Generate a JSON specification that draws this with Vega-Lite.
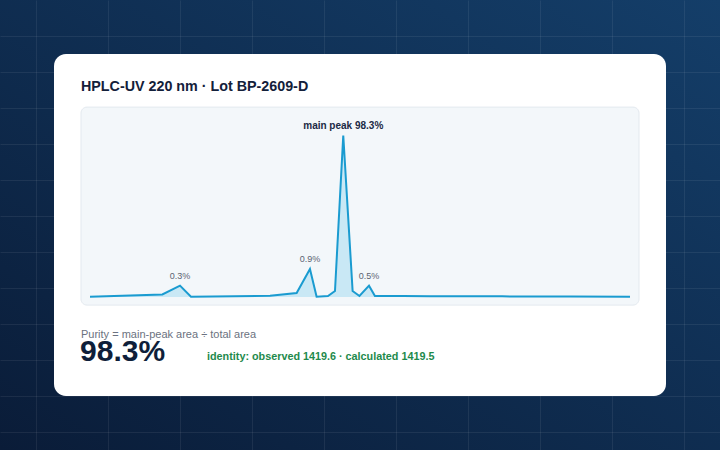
{
  "$schema": "https://vega.github.io/schema/vega-lite/v6.json",
  "width": 720,
  "height": 450,
  "autosize": {"type": "none"},
  "padding": 0,
  "background": "#0c2648",
  "view": {"stroke": null, "fill": {"gradient": "linear", "x1": 1, "y1": 0, "x2": 0, "y2": 1, "stops": [{"offset": 0, "color": "#143e69"}, {"offset": 1, "color": "#0a1c38"}]}},
  "config": {
    "axis": {"domain": false, "ticks": false, "labels": false, "grid": true, "gridColor": "#ffffff", "gridOpacity": 0.07, "gridWidth": 1},
    "text": {"font": "Liberation Sans"}
  },
  "datasets": {
    "chrom": [
      {"t": 0.0, "signal": 0.2},
      {"t": 4.02, "signal": 1.4},
      {"t": 5.0, "signal": 6.3, "label": "0.3%"},
      {"t": 5.61, "signal": 0.2},
      {"t": 10.0, "signal": 0.7},
      {"t": 11.48, "signal": 2.2},
      {"t": 12.22, "signal": 15.6, "label": "0.9%"},
      {"t": 12.59, "signal": 0.2},
      {"t": 13.22, "signal": 0.55},
      {"t": 13.61, "signal": 3.3},
      {"t": 14.07, "signal": 89.7, "label": "main peak 98.3%"},
      {"t": 14.59, "signal": 3.3},
      {"t": 14.97, "signal": 0.55},
      {"t": 15.5, "signal": 6.3, "label": "0.5%"},
      {"t": 15.83, "signal": 0.55},
      {"t": 17.4, "signal": 0.5},
      {"t": 18.9, "signal": 0.45},
      {"t": 21.4, "signal": 0.4},
      {"t": 22.9, "signal": 0.35},
      {"t": 25.4, "signal": 0.3},
      {"t": 26.7, "signal": 0.25},
      {"t": 30.0, "signal": 0.2}
    ]
  },
  "layer": [
    {
      "data": {"values": [{"left": -2, "right": 32, "bottom": -55, "top": 135}]},
      "mark": {"type": "rect", "fill": "#ffffff", "cornerRadius": 12},
      "encoding": {
        "x": {"field": "left", "type": "quantitative", "title": null, "scale": {"domain": [-5, 35], "nice": false, "zero": false}, "axis": {"values": [-3, -1, 1, 3, 5, 7, 9, 11, 13, 15, 17, 19, 21, 23, 25, 27, 29, 31, 33]}},
        "x2": {"field": "right"},
        "y": {"field": "bottom", "type": "quantitative", "title": null, "scale": {"domain": [-85, 165], "nice": false, "zero": false}, "axis": {"values": [145, 125, 105, 85, 65, 45, 25, 5, -15, -35, -55, -75]}},
        "y2": {"field": "top"}
      }
    },
    {
      "data": {"values": [{"left": -0.5, "right": 30.5, "bottom": -4.5, "top": 105.5}]},
      "mark": {"type": "rect", "fill": "#f3f7fa", "stroke": "#e3e9ef", "strokeWidth": 1, "cornerRadius": 6},
      "encoding": {
        "x": {"field": "left", "type": "quantitative", "title": null},
        "x2": {"field": "right"},
        "y": {"field": "bottom", "type": "quantitative", "title": null},
        "y2": {"field": "top"}
      }
    },
    {
      "data": {"name": "chrom"},
      "mark": {"type": "area", "color": "#22aee0", "opacity": 0.2},
      "encoding": {
        "x": {"field": "t", "type": "quantitative", "title": null},
        "y": {"field": "signal", "type": "quantitative", "title": null},
        "y2": {"datum": 0}
      }
    },
    {
      "data": {"name": "chrom"},
      "mark": {"type": "line", "color": "#1a9bd0", "strokeWidth": 2, "strokeJoin": "miter"},
      "encoding": {
        "x": {"field": "t", "type": "quantitative", "title": null},
        "y": {"field": "signal", "type": "quantitative", "title": null}
      }
    },
    {
      "data": {"name": "chrom"},
      "transform": [{"filter": "datum.label != null && datum.signal < 50"}],
      "mark": {"type": "text", "fontSize": 9, "color": "#5b6472", "align": "center", "baseline": "alphabetic", "dy": -7},
      "encoding": {
        "x": {"field": "t", "type": "quantitative", "title": null},
        "y": {"field": "signal", "type": "quantitative", "title": null},
        "text": {"field": "label"}
      }
    },
    {
      "data": {"name": "chrom"},
      "transform": [{"filter": "datum.label != null && datum.signal >= 50"}],
      "mark": {"type": "text", "fontSize": 10, "fontWeight": "bold", "color": "#1b2a45", "align": "center", "baseline": "alphabetic", "dy": -7},
      "encoding": {
        "x": {"field": "t", "type": "quantitative", "title": null},
        "y": {"field": "signal", "type": "quantitative", "title": null},
        "text": {"field": "label"}
      }
    },
    {
      "data": {"values": [{"text": "HPLC-UV 220 nm · Lot BP-2609-D"}]},
      "mark": {"type": "text", "fontSize": 14.3, "fontWeight": "bold", "color": "#13203a", "align": "left", "baseline": "alphabetic"},
      "encoding": {
        "x": {"datum": -0.5, "type": "quantitative"},
        "y": {"datum": 114.6, "type": "quantitative"},
        "text": {"field": "text"}
      }
    },
    {
      "data": {"values": [{"text": "Purity = main-peak area ÷ total area"}]},
      "mark": {"type": "text", "fontSize": 11, "color": "#6b7280", "align": "left", "baseline": "alphabetic"},
      "encoding": {
        "x": {"datum": -0.5, "type": "quantitative"},
        "y": {"datum": -22.5, "type": "quantitative"},
        "text": {"field": "text"}
      }
    },
    {
      "data": {"values": [{"text": "98.3%"}]},
      "mark": {"type": "text", "fontSize": 30, "fontWeight": "bold", "color": "#0f1f3a", "align": "left", "baseline": "alphabetic"},
      "encoding": {
        "x": {"datum": -0.55, "type": "quantitative"},
        "y": {"datum": -35.3, "type": "quantitative"},
        "text": {"field": "text"}
      }
    },
    {
      "data": {"values": [{"text": "identity: observed 1419.6 · calculated 1419.5"}]},
      "mark": {"type": "text", "fontSize": 10.8, "fontWeight": "bold", "color": "#1e8a4c", "align": "left", "baseline": "alphabetic"},
      "encoding": {
        "x": {"datum": 6.5, "type": "quantitative"},
        "y": {"datum": -35, "type": "quantitative"},
        "text": {"field": "text"}
      }
    }
  ]
}
